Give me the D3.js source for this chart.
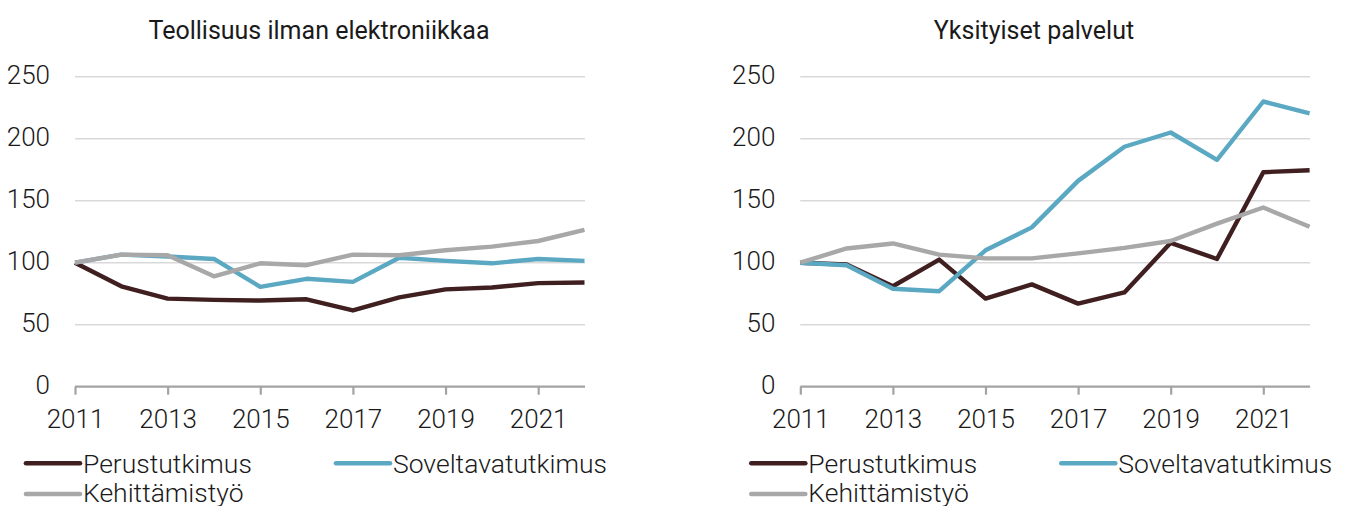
<!DOCTYPE html>
<html><head><meta charset="utf-8">
<script src="https://cdn.jsdelivr.net/npm/d3@7"></script>
<style>
html,body{margin:0;padding:0;background:#fff;}
svg{display:block;}
text{font-family:Roboto,"Noto Sans",sans-serif;fill:#1a1a1a;}
</style></head>
<body>
<svg id="chart" width="1355" height="506"></svg>
<script>
const years = [2011,2012,2013,2014,2015,2016,2017,2018,2019,2020,2021,2022];
const xTickYears = [2011,2013,2015,2017,2019,2021];
const yTicks = [0,50,100,150,200,250];
const seriesNames = ["Perustutkimus","Soveltavatutkimus","Kehittämistyö"];
const seriesColors = ["#3f1f1f","#5ba8c3","#a8a8a8"];
const titles = ["Teollisuus ilman elektroniikkaa","Yksityiset palvelut"];

const teollPerus = [100,81,71,70,69.5,70.5,61.5,72,78.5,80,83.5,84];
const teollSovelt = [100,106.5,105,103,80.5,87,84.5,104,101.5,99.5,103,101.5];
const teollKehitt = [100,106.5,106,89,99.5,98,106.5,106,110,113,117.5,126.5];

const palvPerus = [100,98.5,81,102.5,71,82.5,67,76,116,103,173,174.5];
const palvSovelt = [100,98,79,77,110,128.5,166,193.5,205,183,230,220.5];
const palvKehitt = [100,111.5,115.5,106.5,103.5,103.5,107.5,112,117.5,131.5,144.5,129];

const panels = [
  {title: titles[0], data:[teollPerus,teollSovelt,teollKehitt], x0:75, x1:584.5, titleX:319},
  {title: titles[1], data:[palvPerus,palvSovelt,palvKehitt], x0:800.3, x1:1309.6, titleX:1034}
];

const svg = d3.select("#chart");
const yTop = 76.7, yBot = 386.7;
const FS = "26px";

panels.forEach(p => {
  const g = svg.append("g");
  const x = d3.scaleLinear().domain([2011,2022]).range([p.x0,p.x1]);
  const y = d3.scaleLinear().domain([0,250]).range([yBot,yTop]);

  g.append("text").attr("x",p.titleX).attr("y",39).attr("text-anchor","middle")
    .style("font-size","25px").style("font-weight","400").text(p.title);

  g.selectAll(".grid").data(yTicks.filter(v=>v>0)).join("line")
    .attr("x1",p.x0).attr("x2",p.x1+0.5)
    .attr("y1",d=>y(d)).attr("y2",d=>y(d))
    .attr("stroke","#d9d9d9").attr("stroke-width",1.5);

  g.selectAll(".ylab").data(yTicks).join("text")
    .attr("x",p.x0-25).attr("y",d=>y(d)+7.5).attr("text-anchor","end")
    .style("font-size",FS).style("font-weight","300").text(d=>d);

  const xAxis = d3.axisBottom(x).tickValues(xTickYears).tickFormat(d3.format("d"))
    .tickSize(8).tickSizeOuter(0);
  const ax = g.append("g").attr("transform",`translate(0,${yBot})`).call(xAxis);
  ax.select(".domain").attr("stroke","#a3a3a3").attr("stroke-width",2.2)
    .attr("d",`M${p.x0},0H${p.x1+0.5}`);
  ax.selectAll(".tick line").attr("stroke","#a3a3a3").attr("stroke-width",2.2);
  ax.selectAll(".tick text").attr("y",41.5).attr("dy",null)
    .style("font-size",FS).style("font-weight","300")
    .style("font-family","Roboto,sans-serif").attr("fill","#1a1a1a");

  const line = d3.line().x((d,i)=>x(years[i])).y(d=>y(d));
  p.data.forEach((vals,k) => {
    g.append("path").datum(vals).attr("d",line).attr("fill","none")
      .attr("stroke",seriesColors[k]).attr("stroke-width",4.4)
      .attr("stroke-linejoin","round").attr("stroke-linecap","butt");
  });

  const lx = p.x0-49, sx = p.x0+261;
  const legItems = [
    {name:seriesNames[0], color:seriesColors[0], x:lx, y:463.3, ty:472.8},
    {name:seriesNames[1], color:seriesColors[1], x:sx, y:463.3, ty:472.8},
    {name:seriesNames[2], color:seriesColors[2], x:lx, y:494, ty:501.5}
  ];
  legItems.forEach(it => {
    g.append("line").attr("x1",it.x).attr("x2",it.x+54).attr("y1",it.y).attr("y2",it.y)
      .attr("stroke",it.color).attr("stroke-width",4.6).attr("stroke-linecap","round");
    g.append("text").attr("x",it.x+57).attr("y",it.ty)
      .style("font-size","26.5px").style("font-weight","300").text(it.name);
  });
});
</script>
</body></html>
